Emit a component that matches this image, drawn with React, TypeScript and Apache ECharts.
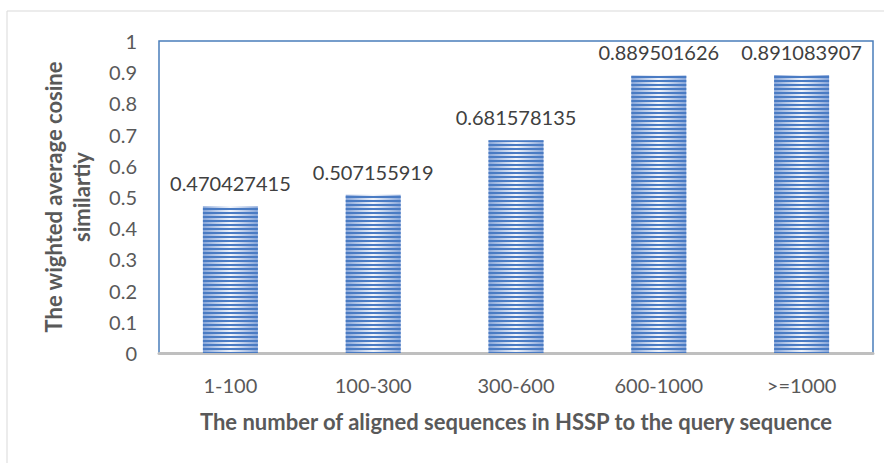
import React, { useEffect, useRef } from "react";
import * as echarts from "echarts";

const categories = ["1-100", "100-300", "300-600", "600-1000", ">=1000"];
const values = [0.470427415, 0.507155919, 0.681578135, 0.889501626, 0.891083907];
const yTicks = { min: 0, max: 1, interval: 0.1 };
const xTitle = "The number of aligned sequences in HSSP to the query sequence";
const yTitle = "The wighted average cosine\nsimilartiy";

export default function App() {
  const ref = useRef<HTMLDivElement>(null);
  useEffect(() => {
    if (!ref.current) return;
    const chart = echarts.init(ref.current, null, { renderer: "svg" });
    const font = "Lato, 'Open Sans', sans-serif";
    chart.setOption({
      animation: false,
      backgroundColor: "#ffffff",
      graphic: [
        { type: "line", shape: { x1: 7, y1: 11, x2: 884, y2: 11 }, style: { stroke: "#D9D9D9", lineWidth: 1 } },
        { type: "line", shape: { x1: 7, y1: 11, x2: 7, y2: 463 }, style: { stroke: "#D9D9D9", lineWidth: 1 } },
      ],
      grid: {
        left: 159,
        top: 41,
        right: 19,
        bottom: 110,
        show: true,
        borderColor: "#4A7EBB",
        borderWidth: 1.5,
        backgroundColor: "transparent",
      },
      xAxis: {
        type: "category",
        data: categories,
        name: xTitle,
        nameLocation: "middle",
        nameGap: 57,
        nameTextStyle: { fontFamily: font, fontWeight: "bold", fontSize: 22, color: "#595959" },
        axisLine: { show: true, lineStyle: { color: "#BFBFBF", width: 3 } },
        axisTick: { show: false },
        axisLabel: { margin: 22, fontFamily: font, fontSize: 20, color: "#595959" },
        splitLine: { show: false },
      },
      yAxis: {
        type: "value",
        min: yTicks.min,
        max: yTicks.max,
        interval: yTicks.interval,
        name: yTitle,
        nameLocation: "middle",
        nameGap: 64,
        nameTextStyle: { fontFamily: font, fontWeight: "bold", fontSize: 22, color: "#595959", lineHeight: 28 },
        axisLine: { show: false },
        axisTick: { show: false },
        splitLine: { show: false },
        axisLabel: { margin: 22, fontFamily: font, fontSize: 20, color: "#595959" },
      },
      series: [
        {
          type: "bar",
          data: values,
          barWidth: "38.5%",
          itemStyle: {
            color: {
              type: "linear",
              x: 0,
              y: 0,
              x2: 1,
              y2: 0,
              colorStops: [
                { offset: 0, color: "#86A5D9" },
                { offset: 0.5, color: "#F2F5FB" },
                { offset: 1, color: "#86A5D9" },
              ],
            },
            decal: {
              symbol: "rect",
              symbolSize: 1,
              color: "#4A7BC3",
              dashArrayX: [1, 0],
              dashArrayY: [1.7, 1.4],
              rotation: 0,
            },
          },
          label: {
            show: true,
            position: "top",
            distance: 13,
            fontFamily: font,
            fontSize: 20,
            color: "#404040",
            formatter: (p: any) => String(p.value),
          },
        },
      ],
    });
    return () => chart.dispose();
  }, []);
  return <div ref={ref} style={{ position: "fixed", left: 0, top: 0, width: 892, height: 463 }} />;
}
